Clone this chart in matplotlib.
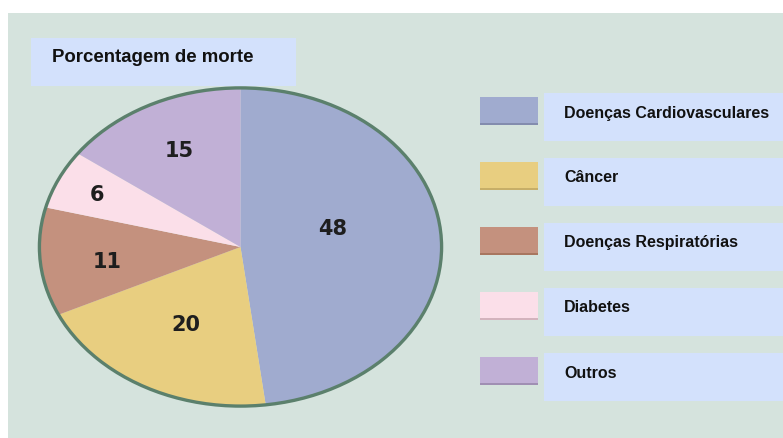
import matplotlib
matplotlib.use("Agg")
import numpy as np
import matplotlib.pyplot as plt
from matplotlib.patches import Rectangle, Ellipse

# data
categories = ["Doenças Cardiovasculares", "Câncer", "Doenças Respiratórias", "Diabetes", "Outros"]
values = [48, 20, 11, 6, 15]
colors = ["#a0abcf", "#e8ce80", "#c4917e", "#fbdfe9", "#c1b0d6"]
edge_colors = ["#838cae", "#c7ae68", "#a8765f", "#d3b3bd", "#a08fb3"]
title = "Porcentagem de morte"

W, H = 783, 438
fig = plt.figure(figsize=(W / 100, H / 100), dpi=100)
fig.patch.set_facecolor("white")

def px_rect(x0, y0, x1, y1, **kw):
    # rectangle in figure pixels, y measured from top
    return Rectangle((x0 / W, 1 - y1 / H), (x1 - x0) / W, (y1 - y0) / H,
                     transform=fig.transFigure, **kw)

# panel background
fig.patches.append(px_rect(8, 13, W, H, facecolor="#d5e3dd", edgecolor="none", zorder=0))

# title box
fig.patches.append(px_rect(31, 38, 296, 86, facecolor="#d3e1fc", edgecolor="none", zorder=1))
fig.text(52 / W, 1 - 58 / H, title, fontsize=13.4, fontweight="bold",
         family="Liberation Sans", va="center", ha="left", color="#111111")

# pie (stretched horizontally like the original)
ax = fig.add_axes([37 / W, 1 - 408 / H, 407 / W, 322 / H])
ax.set_zorder(5)
wedges, _ = ax.pie(values, colors=colors, startangle=90, counterclock=False,
                   radius=1.0, wedgeprops=dict(linewidth=0))
ax.set_aspect("auto")
ax.set_xlim(-1.012, 1.012)
ax.set_ylim(-1.012, 1.012)
ax.axis("off")
ax.add_patch(Ellipse((0, 0), 2, 2, facecolor="none", edgecolor="#5b806c", linewidth=2.4))

# label placement inside each wedge: radius and small angle nudge
label_r = [0.47, 0.56, 0.67, 0.785, 0.675]
label_shift = [10, 0, 2.5, 0.5, 0]
for w, v, r, s in zip(wedges, values, label_r, label_shift):
    ang = np.deg2rad((w.theta1 + w.theta2) / 2 + s)
    ax.text(r * np.cos(ang), r * np.sin(ang), str(v), ha="center", va="center",
            fontsize=15, fontweight="bold", family="DejaVu Sans", color="#1e1e1e")

# legend
for i, (name, c, ec) in enumerate(zip(categories, colors, edge_colors)):
    top = 97 + i * 65
    fig.patches.append(px_rect(480, top, 538, top + 28, facecolor=c, edgecolor="none", zorder=1))
    fig.patches.append(px_rect(480, top + 26, 538, top + 28, facecolor=ec, edgecolor="none", zorder=2))
    fig.patches.append(px_rect(544, top - 4, W, top + 44, facecolor="#d3e1fc", edgecolor="none", zorder=1))
    fig.text(564 / W, 1 - (top + 16) / H, name, fontsize=11.5, fontweight="bold",
             family="Liberation Sans", va="center", ha="left", color="#111111")

fig.savefig("out.png", dpi=100)
